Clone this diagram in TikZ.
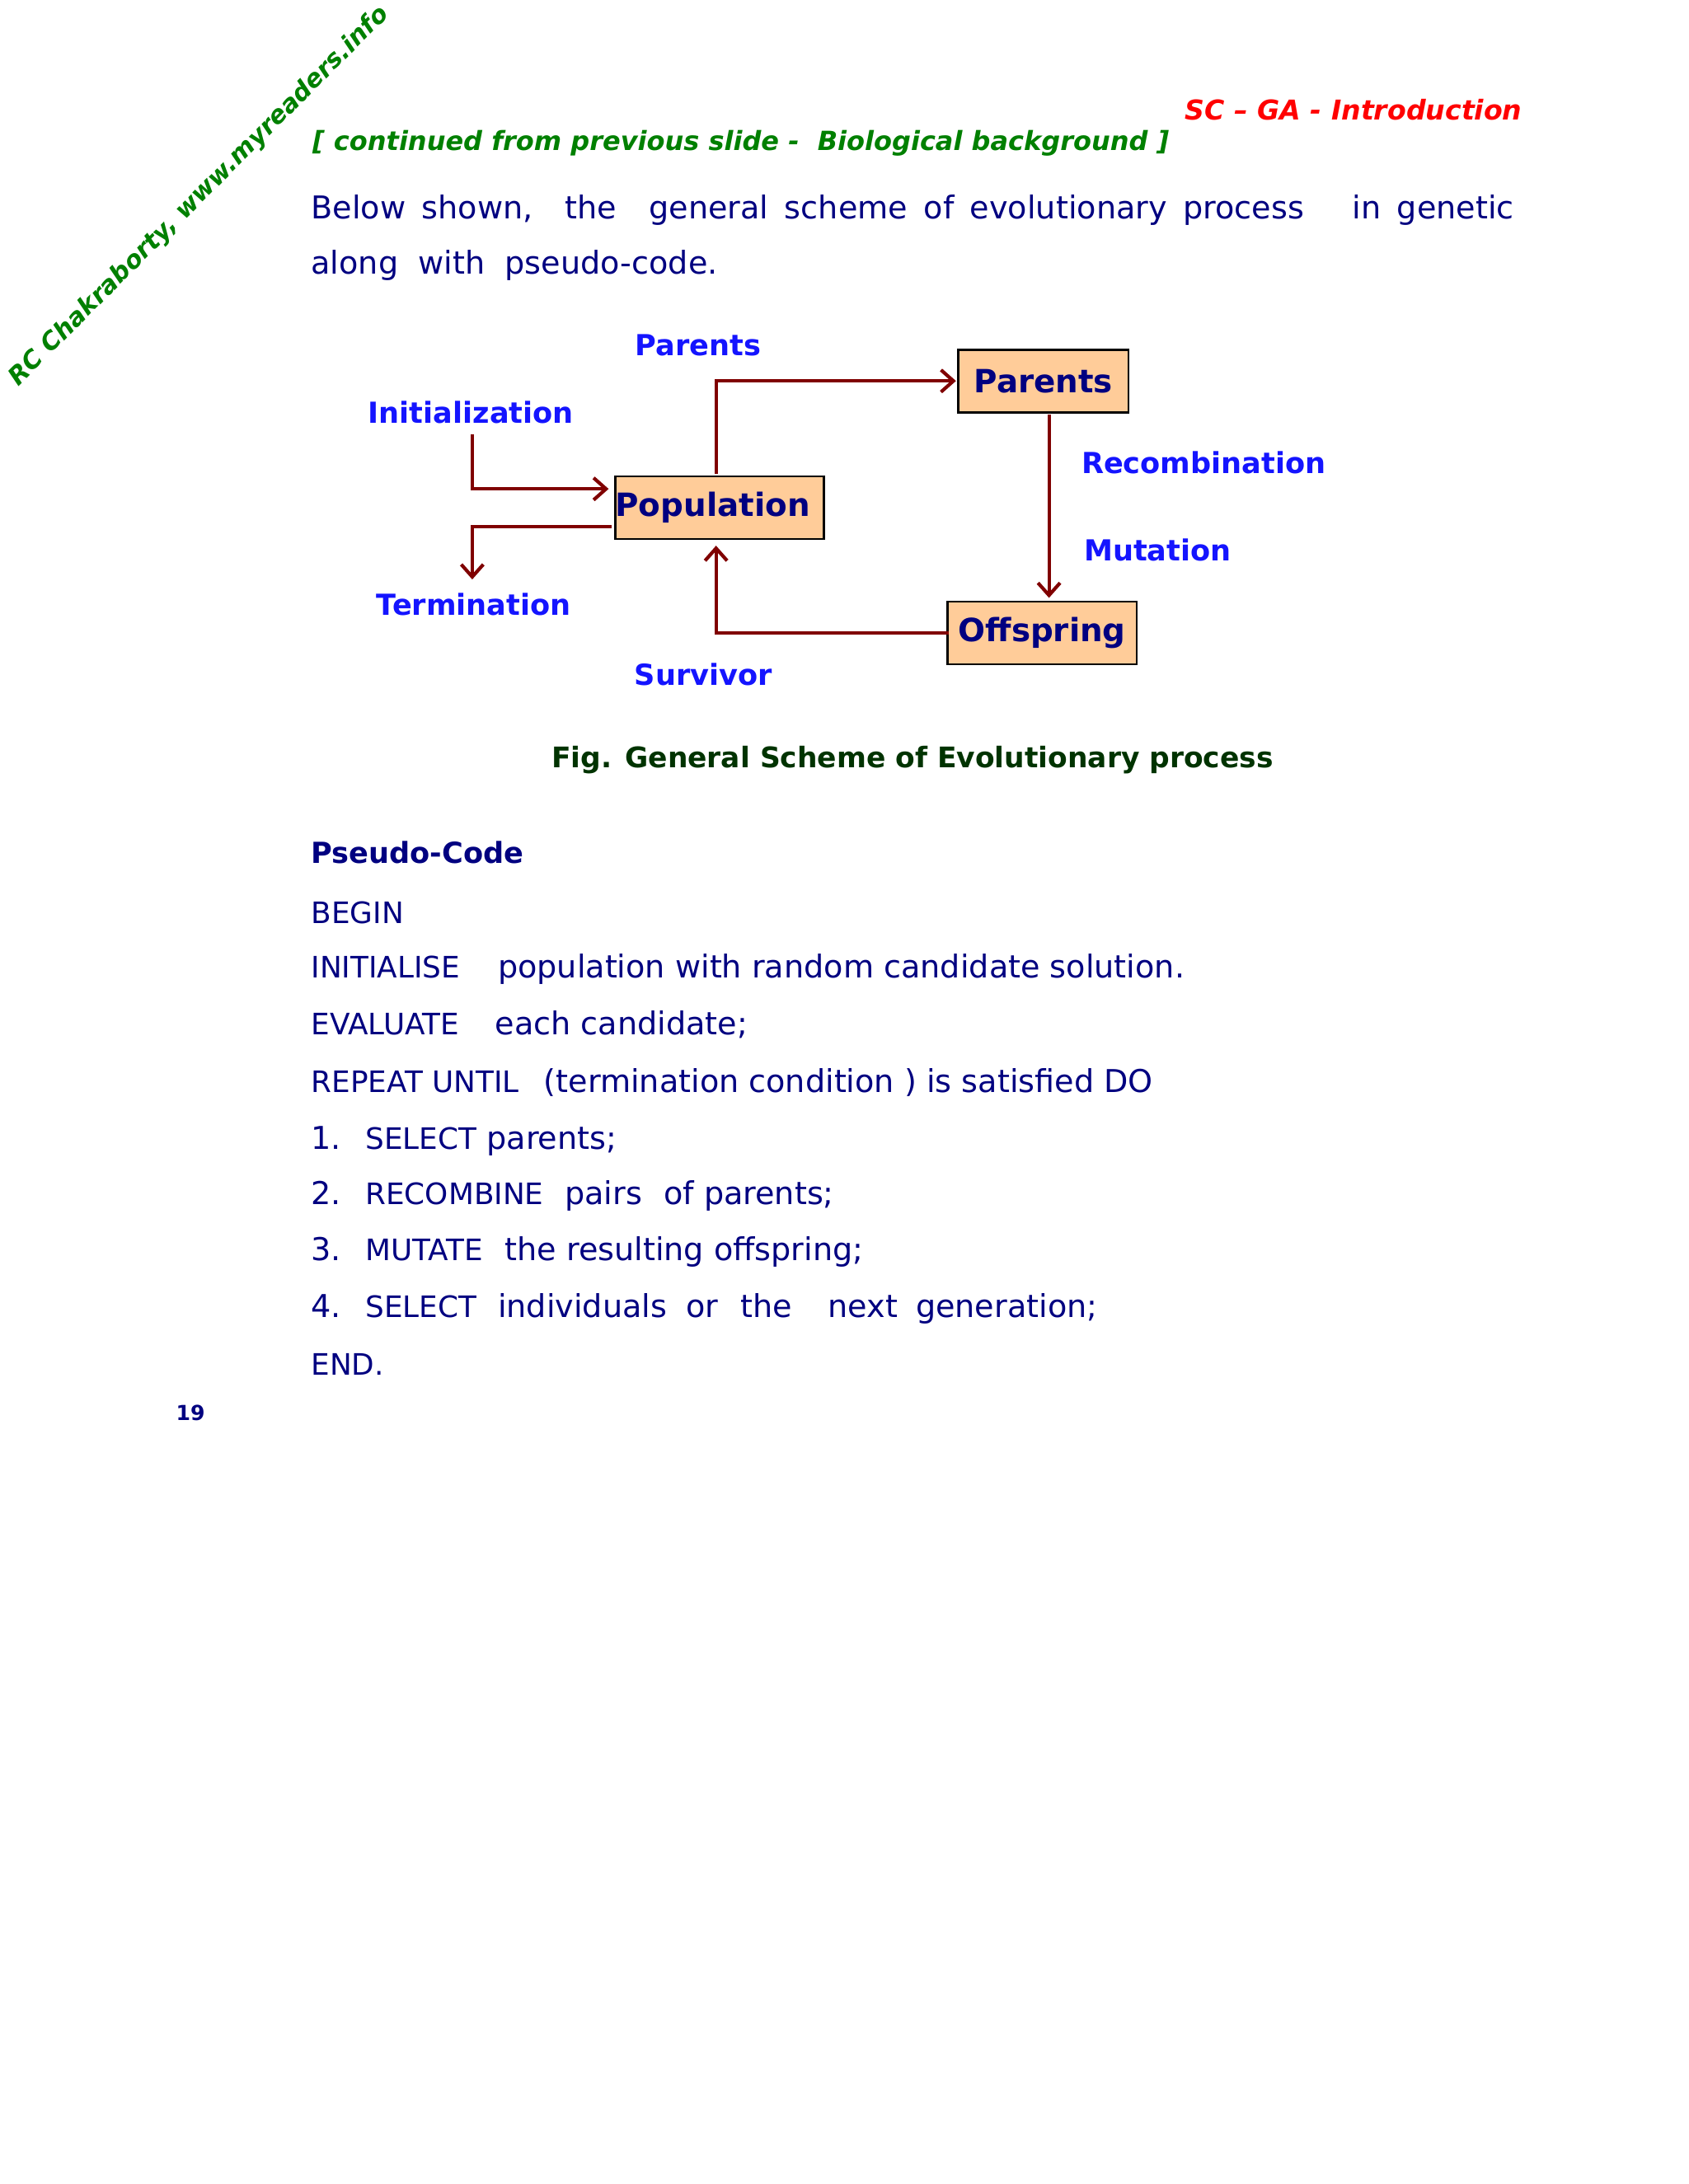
\documentclass[tikz,border=0pt]{standalone}
\usepackage{fontspec}
\setmainfont{DejaVu Sans}
\usetikzlibrary{arrows.meta,calc}
\definecolor{navytxt}{RGB}{0,0,128}
\definecolor{lblblue}{RGB}{20,20,255}
\definecolor{wmgreen}{RGB}{0,128,0}
\definecolor{hdred}{RGB}{255,0,0}
\definecolor{capgreen}{RGB}{0,51,0}
\definecolor{boxfill}{RGB}{255,204,153}
\definecolor{arrred}{RGB}{128,0,0}
\begin{document}
\begin{tikzpicture}[x=0.505pt,y=-0.505pt,
  txt/.style={anchor=base west,inner sep=0pt,text=navytxt,font=\fontsize{11.4}{14}\selectfont},
  kw/.style={anchor=base west,inner sep=0pt,text=navytxt,font=\fontsize{10.7}{13}\selectfont},
  lbl/.style={text=lblblue,font=\bfseries\fontsize{10.5}{13}\selectfont,inner sep=0pt},
  box/.style={draw=black,line width=0.8pt,fill=boxfill,text=navytxt,font=\bfseries\fontsize{11.6}{14}\selectfont,minimum height=22.7pt,inner sep=0pt},
  arr/.style={draw=arrred,line width=1.25pt,-{Straight Barb[length=4.5pt,width=8pt,line width=1.25pt]}},
]
\useasboundingbox (0,0) rectangle (1212,1568);
% watermark and headers
\node[rotate=45,text=wmgreen,font=\bfseries\itshape\fontsize{9}{11}\selectfont,inner sep=0pt] (wm) at (143,141) {RC Chakraborty, www.myreaders.info};
\node[anchor=base east,inner sep=0pt,text=hdred,font=\bfseries\itshape\fontsize{9.9}{12}\selectfont] (hdr) at (1093,86) {SC -- GA - Introduction};
\node[anchor=base west,inner sep=0pt,text=wmgreen,font=\bfseries\itshape\fontsize{9.56}{12}\selectfont] (cont) at (224,108) {[ continued from previous slide -\ \ Biological background ]};
\node[txt] (intro1) at (223,157) {\makebox[436pt][s]{Below shown,\ \ the\ \ general scheme of evolutionary process\ \ \ in genetic}};
\node[txt] (intro2) at (223,197) {along\ \ with\ \ pseudo-code.};
% diagram
\node[box,minimum width=61.6pt] (par) at (749,273.5) {Parents};
\node[box,minimum width=75.2pt] (pop) at (516.5,364.5) {Population\hspace*{5pt}};
\node[box,minimum width=68.7pt] (off) at (748,454.5) {Offspring};
\node[lbl] (lpar) at (501,248) {Parents};
\node[lbl] (linit) at (338,296) {Initialization};
\node[lbl] (lrec) at (864,332) {Recombination};
\node[lbl] (lmut) at (831,395) {Mutation};
\node[lbl] (lterm) at (340,434) {Termination};
\node[lbl] (lsurv) at (505,484) {Survivor};
\coordinate (initS) at (339,312);
\coordinate (termE) at (339,416);
\draw[arr] (initS) |- ($(pop.west)+(-4,-13.5)$);
\draw[arr] ($(pop.west)+(-2,13.5)$) -| (termE);
\draw[arr] ($(pop.north)+(-2.5,-1)$) |- ($(par.west)+(-1,0)$);
\draw[arr] ($(par.south)+(4,1)$) -- ($(off.north)+(5,-2)$);
\draw[arr] ($(off.west)+(2,0)$) -| ($(pop.south)+(-2.5,4)$);
\node[anchor=base,inner sep=0pt,text=capgreen,font=\bfseries\fontsize{10.3}{12}\selectfont] (cap) at (655,551) {Fig. General Scheme of Evolutionary process};
% pseudo-code
\node[anchor=base west,inner sep=0pt,text=navytxt,font=\bfseries\fontsize{10.5}{13}\selectfont] (pc) at (223,620) {Pseudo-Code};
\node[kw] (begin) at (223,663) {BEGIN};
\node[kw] (kinit) at (223,702) {INITIALISE};
\node[txt] (tinit) at (357,702) {population with random candidate solution.};
\node[kw] (keval) at (223,743) {EVALUATE};
\node[txt] (teval) at (355,743) {each candidate;};
\node[kw] (krep) at (223,784) {REPEAT UNTIL};
\node[txt] (trep) at (390,784) {(termination condition ) is satisfied DO};
\node[txt] (n1) at (223,825) {1.};
\node[kw] (k1) at (262,825) {SELECT};
\node[txt] (t1) at (349,825) {parents;};
\node[txt] (n2) at (223,865) {2.};
\node[kw] (k2) at (262,865) {RECOMBINE};
\node[txt] (t2a) at (405,865) {pairs};
\node[txt] (t2b) at (476,865) {of parents;};
\node[txt] (n3) at (223,905) {3.};
\node[kw] (k3) at (262,905) {MUTATE};
\node[txt] (t3) at (362,905) {the resulting offspring;};
\node[txt] (n4) at (223,946) {4.};
\node[kw] (k4) at (262,946) {SELECT};
\node[txt] (t4a) at (357,946) {individuals};
\node[txt] (t4b) at (492,946) {or};
\node[txt] (t4c) at (531,946) {the};
\node[txt] (t4d) at (594,946) {next};
\node[txt] (t4e) at (657,946) {generation;};
\node[kw] (kend) at (223,987) {END.};
\node[anchor=base west,inner sep=0pt,text=navytxt,font=\bfseries\fontsize{7.5}{9}\selectfont] (pg) at (126,1020) {19};
\end{tikzpicture}
\end{document}
